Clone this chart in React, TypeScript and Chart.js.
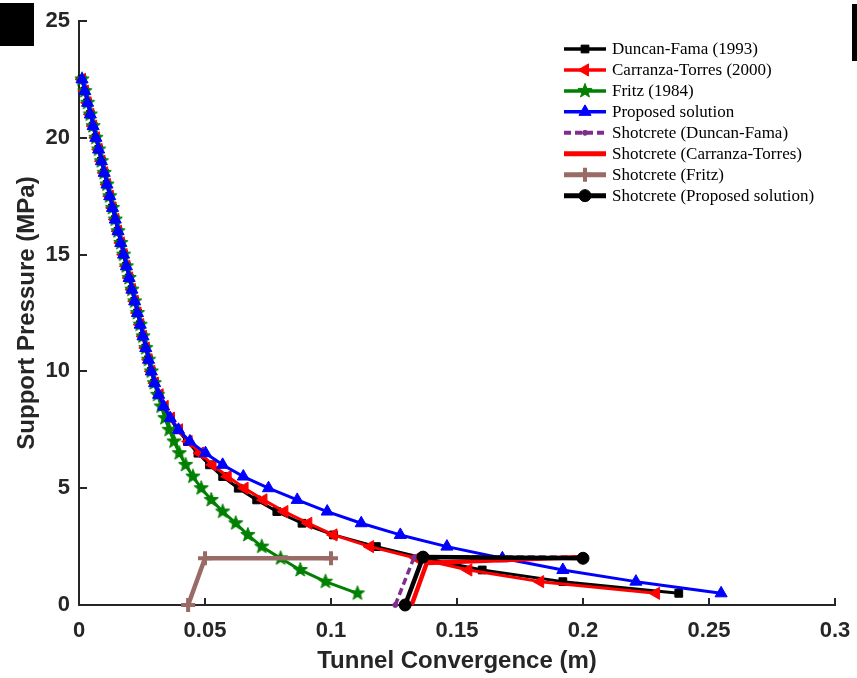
import React, { useEffect, useRef } from 'react';
import { Chart, registerables } from 'chart.js';
import { drawPoint } from 'chart.js/helpers';

Chart.register(...registerables);

// Support pressure steps (MPa) shared by every ground reaction curve
const pressure = [
  22.5, 22, 21.5, 21, 20.5, 20, 19.5, 19, 18.5, 18, 17.5, 17, 16.5, 16, 15.5,
  15, 14.5, 14, 13.5, 13, 12.5, 12, 11.5, 11, 10.5, 10,
  9.5, 9, 8.5, 8, 7.5, 7, 6.5, 6, 5.5, 5, 4.5, 4, 3.5, 3, 2.5, 2, 1.5, 1, 0.5,
];

// Elastic branch (p >= 10 MPa), identical for all solutions
const elasticBranch = [
  0.0012, 0.0023, 0.0034, 0.0045, 0.0056, 0.0067, 0.0078, 0.0089, 0.01, 0.0111,
  0.0122, 0.0133, 0.0144, 0.0155, 0.0166, 0.0177, 0.0188, 0.0199, 0.021, 0.0221,
  0.0232, 0.0243, 0.0254, 0.0265, 0.0276, 0.0287,
];

// Plastic branches (p = 9.5 ... 0.5 MPa), tunnel convergence in m
const duncanFamaPlastic = [
  0.03, 0.0316, 0.0336, 0.0361, 0.0392, 0.043, 0.0472, 0.0518, 0.057, 0.0632,
  0.0705, 0.0785, 0.0885, 0.101, 0.118, 0.137, 0.16, 0.192, 0.238,
];
const carranzaTorresPlastic = [
  0.0301, 0.032, 0.034, 0.0365, 0.0397, 0.0435, 0.048, 0.053, 0.059, 0.0657,
  0.0732, 0.0815, 0.091, 0.101, 0.1155, 0.134, 0.1545, 0.183, 0.229,
];
const fritzPlastic = [
  0.0299, 0.0312, 0.0326, 0.0341, 0.0358, 0.0377, 0.0398, 0.0423, 0.0452, 0.0485,
  0.0525, 0.057, 0.0622, 0.067, 0.0725, 0.08, 0.0878, 0.0978, 0.1105,
];
const proposedPlastic = [
  0.03, 0.0316, 0.0336, 0.0362, 0.0395, 0.044, 0.0502, 0.057, 0.0652, 0.0752,
  0.0866, 0.0985, 0.112, 0.1275, 0.146, 0.168, 0.192, 0.221, 0.2548,
];

// Shotcrete support characteristic lines
const shotcreteDuncanFamaX = [0.1255, 0.133, 0.2];
const shotcreteDuncanFamaY = [0, 2.05, 2.05];
const shotcreteCarranzaX = [0.132, 0.138, 0.2];
const shotcreteCarranzaY = [0, 1.8, 2.05];
const shotcreteFritzX = [0.0433, 0.05, 0.1];
const shotcreteFritzY = [0, 2, 2];
const shotcreteProposedX = [0.1294, 0.1365, 0.2];
const shotcreteProposedY = [0, 2.05, 2.0];

const xTickValues = [0, 0.05, 0.1, 0.15, 0.2, 0.25, 0.3];
const xTickLabels = ['0', '0.05', '0.1', '0.15', '0.2', '0.25', '0.3'];
const yTickValues = [0, 5, 10, 15, 20, 25];
const yTickLabels = ['0', '5', '10', '15', '20', '25'];

const xTitle = 'Tunnel Convergence (m)';
const yTitle = 'Support Pressure (MPa)';

const AXIS_COLOR = '#262626';
const PURPLE = '#7e2f8e';
const BROWN = '#9a6a66';
const GREEN = '#008000';

function makePentagram(color: string, R: number) {
  const s = Math.ceil(R * 2 + 3);
  const c = document.createElement('canvas');
  c.width = s;
  c.height = s;
  const g = c.getContext('2d')!;
  g.fillStyle = color;
  g.strokeStyle = color;
  g.lineWidth = 1;
  g.beginPath();
  for (let i = 0; i < 10; i++) {
    const r = i % 2 === 0 ? R : R * 0.42;
    const a = -Math.PI / 2 + (i * Math.PI) / 5;
    const px = s / 2 + r * Math.cos(a);
    const py = s / 2 + r * Math.sin(a);
    if (i === 0) g.moveTo(px, py);
    else g.lineTo(px, py);
  }
  g.closePath();
  g.fill();
  g.stroke();
  return c;
}

function toPoints(xs: number[], ys: number[]) {
  return xs.map((x, i) => ({ x, y: ys[i] }));
}

// Inward tick marks, box-less axes
const inwardTicks = {
  id: 'inwardTicks',
  afterDatasetsDraw(chart: any) {
    const { ctx, chartArea, scales } = chart;
    ctx.save();
    ctx.strokeStyle = AXIS_COLOR;
    ctx.lineWidth = 2;
    ctx.beginPath();
    xTickValues.forEach((v) => {
      const px = Math.round(scales.x.getPixelForValue(v));
      ctx.moveTo(px, chartArea.bottom);
      ctx.lineTo(px, chartArea.bottom - 7);
    });
    yTickValues.forEach((v) => {
      const py = Math.round(scales.y.getPixelForValue(v));
      ctx.moveTo(chartArea.left, py);
      ctx.lineTo(chartArea.left + 8, py);
    });
    ctx.stroke();
    ctx.restore();
  },
};

// Axis titles
const axisTitles = {
  id: 'axisTitles',
  afterDraw(chart: any) {
    const { ctx, chartArea } = chart;
    ctx.save();
    ctx.fillStyle = AXIS_COLOR;
    ctx.font = 'bold 24px "Liberation Sans", Arial, sans-serif';
    ctx.textAlign = 'center';
    ctx.textBaseline = 'middle';
    ctx.fillText(xTitle, (chartArea.left + chartArea.right) / 2, 661);
    ctx.translate(27, (chartArea.top + chartArea.bottom) / 2);
    ctx.rotate(-Math.PI / 2);
    ctx.fillText(yTitle, 0, 0);
    ctx.restore();
  },
};

// Legend with line sample and marker for each series
const lineLegend = {
  id: 'lineLegend',
  afterDraw(chart: any) {
    const { ctx } = chart;
    const x0 = 564;
    const x1 = 606;
    const y0 = 49;
    const dy = 20.95;
    ctx.save();
    chart.data.datasets.forEach((ds: any, i: number) => {
      const y = y0 + i * dy;
      ctx.save();
      ctx.strokeStyle = ds.borderColor;
      ctx.lineWidth = ds.borderWidth + 0.5;
      ctx.setLineDash(ds.borderDash || []);
      ctx.beginPath();
      ctx.moveTo(x0, y);
      ctx.lineTo(x1, y);
      ctx.stroke();
      ctx.setLineDash([]);
      if (ds.pointRadius > 0) {
        ctx.fillStyle = ds.pointBackgroundColor;
        ctx.strokeStyle = ds.pointBorderColor;
        ctx.lineWidth = ds.pointBorderWidth;
        drawPoint(
          ctx,
          {
            pointStyle: ds.pointStyle,
            radius: ds.pointRadius,
            rotation: ds.pointRotation || 0,
            borderWidth: ds.pointBorderWidth,
          },
          (x0 + x1) / 2,
          y
        );
      }
      ctx.restore();
      ctx.fillStyle = '#000';
      ctx.font = '17px "Liberation Serif", "Times New Roman", serif';
      ctx.textAlign = 'left';
      ctx.textBaseline = 'middle';
      ctx.fillText(ds.label, 612, y + 1);
    });
    ctx.restore();
  },
};

export default function App() {
  const canvasRef = useRef<HTMLCanvasElement>(null);

  useEffect(() => {
    const star = makePentagram(GREEN, 7.5);
    const curve = (label: string, color: string, plastic: number[], extra: any) => ({
      label,
      data: toPoints([...elasticBranch, ...plastic], pressure),
      borderColor: color,
      backgroundColor: color,
      borderWidth: 3,
      pointBackgroundColor: color,
      pointBorderColor: color,
      pointBorderWidth: 1,
      ...extra,
    });
    const shot = (label: string, color: string, xs: number[], ys: number[], extra: any) => ({
      label,
      data: toPoints(xs, ys),
      borderColor: color,
      backgroundColor: color,
      borderWidth: 4.5,
      pointBackgroundColor: color,
      pointBorderColor: color,
      pointBorderWidth: 1,
      pointRadius: 0,
      ...extra,
    });

    const datasets: any[] = [
      curve('Duncan-Fama (1993)', '#000000', duncanFamaPlastic, { pointStyle: 'rect', pointRadius: 5.5 }),
      curve('Carranza-Torres (2000)', '#ff0000', carranzaTorresPlastic, {
        pointStyle: 'triangle',
        pointRadius: 7,
        pointRotation: -90,
      }),
      curve('Fritz (1984)', GREEN, fritzPlastic, { pointStyle: star, pointRadius: 7 }),
      curve('Proposed solution', '#0000ff', proposedPlastic, { pointStyle: 'triangle', pointRadius: 7 }),
      shot('Shotcrete (Duncan-Fama)', PURPLE, shotcreteDuncanFamaX, shotcreteDuncanFamaY, {
        borderWidth: 3.5,
        borderDash: [7, 4],
        pointStyle: 'circle',
        pointRadius: 2.5,
      }),
      shot('Shotcrete (Carranza-Torres)', '#ff0000', shotcreteCarranzaX, shotcreteCarranzaY, {}),
      shot('Shotcrete (Fritz)', BROWN, shotcreteFritzX, shotcreteFritzY, {
        pointStyle: 'cross',
        pointRadius: 7,
        pointBorderWidth: 4,
      }),
      shot('Shotcrete (Proposed solution)', '#000000', shotcreteProposedX, shotcreteProposedY, {
        pointStyle: 'circle',
        pointRadius: 6,
      }),
    ];
    datasets.forEach((ds, i) => {
      ds.order = datasets.length - i;
      ds.clip = false;
      ds.tension = 0;
      ds.borderJoinStyle = 'round';
    });

    const tickFont = { family: '"Liberation Sans", Arial, sans-serif', weight: 'bold' as const, size: 22 };

    const chart = new Chart(canvasRef.current!, {
      type: 'line',
      data: { datasets },
      options: {
        animation: false,
        responsive: false,
        devicePixelRatio: 1,
        layout: { padding: { top: 21, right: 22, left: 0, bottom: 0 } },
        plugins: { legend: { display: false }, tooltip: { enabled: false } },
        scales: {
          x: {
            type: 'linear',
            min: 0,
            max: 0.3,
            afterFit: (s: any) => {
              s.height = 73;
              s.paddingLeft = 0;
              s.paddingRight = 0;
            },
            afterBuildTicks: (s: any) => {
              s.ticks = xTickValues.map((v) => ({ value: v }));
            },
            grid: { display: false, drawTicks: false },
            border: { display: true, color: AXIS_COLOR, width: 2 },
            ticks: {
              autoSkip: false,
              maxRotation: 0,
              padding: 13,
              color: AXIS_COLOR,
              font: tickFont,
              callback: (_v: any, i: number) => xTickLabels[i],
            },
          },
          y: {
            type: 'linear',
            min: 0,
            max: 25,
            afterFit: (s: any) => {
              s.width = 79;
              s.paddingTop = 0;
              s.paddingBottom = 0;
            },
            afterBuildTicks: (s: any) => {
              s.ticks = yTickValues.map((v) => ({ value: v }));
            },
            grid: { display: false, drawTicks: false },
            border: { display: true, color: AXIS_COLOR, width: 2 },
            ticks: {
              autoSkip: false,
              padding: 9,
              color: AXIS_COLOR,
              font: tickFont,
              callback: (_v: any, i: number) => yTickLabels[i],
            },
          },
        },
      },
      plugins: [inwardTicks, axisTitles, lineLegend],
    });
    return () => chart.destroy();
  }, []);

  return (
    <div style={{ position: 'absolute', left: 0, top: 0, width: 857, height: 678, background: '#ffffff' }}>
      <canvas ref={canvasRef} width={857} height={678} style={{ position: 'absolute', left: 0, top: 0 }} />
      <div style={{ position: 'absolute', left: 0, top: 3, width: 34, height: 43, background: '#000' }} />
      <div style={{ position: 'absolute', left: 852, top: 4, width: 5, height: 57, background: '#000' }} />
    </div>
  );
}
